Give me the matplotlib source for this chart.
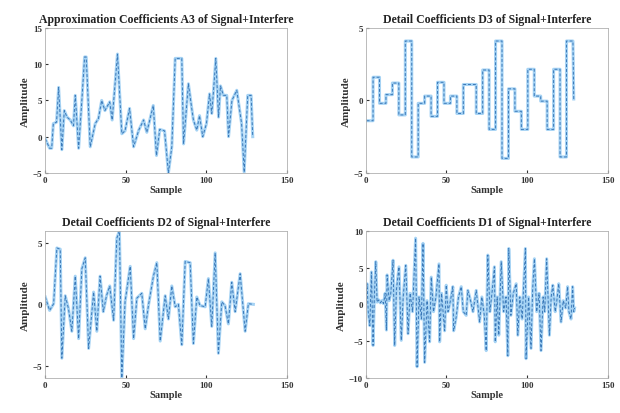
import numpy as np
import matplotlib
matplotlib.use("Agg")
import matplotlib.pyplot as plt

plt.rcParams["font.family"] = ["Liberation Serif", "DejaVu Serif"]
plt.rcParams["font.weight"] = "bold"

# A3: vertices
a3_x = [0, 2.7, 4, 5, 7, 8.3, 10.3, 11.8, 13.5, 15.5, 17.5, 18.6, 20.7, 22.7,
        24.4, 25.4, 27.9, 31, 33, 35, 37, 40, 41.5, 44.8, 47.5, 49.5, 52.3,
        54.8, 58, 61, 63, 67, 69, 71, 74, 76.4, 78.5, 80.6, 84.7, 85.8, 88.8,
        90.8, 91.9, 94, 95.7, 97.7, 100, 101.9, 103.3, 104.4, 105.8, 107.5,
        108.7, 110.5, 112.6, 113.7, 115.8, 118.8, 121.8, 123.4, 125.6, 127.7,
        128.7]
a3_y = [-0.3, -1.6, -1.6, 1.8, 2.0, 6.8, -1.8, 3.6, 2.7, 2.3, 1.5, 5.7, -1.6,
        5.0, 11.0, 11.0, -1.4, 1.8, 2.5, 5.0, 3.6, 4.8, 2.3, 11.4, 0.4, 0.8,
        3.9, -1.4, 0.9, 2.3, 0.6, 4.3, -2.6, 1.0, 0.8, -5.0, -1.4, 10.8, 10.8,
        -1.0, 7.3, 4.0, 2.3, 0.9, 2.9, 0.0, 1.8, 5.9, 3.2, 6.4, 10.8, 2.7, 7.0,
        5.7, 5.7, 0.0, 5.0, 6.4, 1.8, -4.9, 5.7, 5.7, 0.0]

# D3: one level per block of 4 samples
d3_levels = [-1.4, 1.6, -0.2, 0.4, 1.2, -1.0, 4.1, -3.9, -0.2, 0.3, -1.1, 1.25,
             -0.2, 0.3, -0.9, 1.1, 1.1, -0.9, 2.1, -2.0, 4.1, -4.0, 0.8, -0.75,
             -2.0, 2.15, 0.3, -0.05, -2.0, 2.15, -3.9, 4.1]
d3_last = 0.1

# D2
d2_x = [0, 2.7, 5.2, 7.2, 9.3, 10.3, 12.4, 14.4, 16.5, 18.6, 20.7, 22.7, 24.8,
        26.9, 30, 32, 34, 36, 38, 40, 42.4, 44.4, 46, 47.5, 49.5, 52.7, 54.8,
        56.8, 59.9, 62, 64, 67.1, 69.2, 71.3, 74.4, 76.4, 78.5, 80.6, 82.6,
        84.7, 86.8, 89.9, 91.9, 94, 96, 99.2, 101.2, 103.3, 105.4, 107.4,
        109.5, 111.5, 113.6, 115.7, 117.8, 120.9, 124, 126, 129.1]
d2_y = [0.6, -0.5, 0.05, 4.6, 4.5, -4.4, 0.7, -0.35, -2.2, 2.3, -2.8, 2.9, 3.8,
        -3.6, 1.0, -2.2, 2.3, -0.6, 0.7, 1.5, -1.3, 5.4, 6.0, -6.0, 0.2, 3.1,
        -2.8, 0.5, 0.9, -2.0, -0.1, 2.3, 3.4, -3.0, 0.7, -1.2, 1.5, -0.2, 0.0,
        -3.3, 3.5, 3.4, -3.2, 0.6, -0.1, -0.2, 2.1, -1.8, 4.2, -4.0, 0.2, -0.1,
        -1.6, 1.8, -0.6, 2.5, -2.2, 0.05, 0.0]

# D1
d1_x = [0, 0.8, 1.5, 2.5, 3.5, 4.5, 5.3, 6.2, 7, 8, 9, 10, 11, 12, 12.8, 13.2,
        14.5, 15.5, 16.9, 17.9, 19, 20.6, 22, 23.2, 24.8, 26.2, 27.5, 29, 30.9,
        31.8, 33, 34.5, 35.5, 36.5, 38, 39.6, 40.6, 42, 43.5, 45.4, 45.8, 47,
        48.9, 49.9, 51, 52.5, 54, 54.5, 56.1, 57.5, 59.2, 60.5, 62.3, 63.3, 65,
        66.5, 68.5, 70.6, 72, 73.5, 74.7, 75.7, 77, 78.5, 79.8, 80.3, 81.5,
        82.5, 84, 85.5, 87, 88.1, 88.7, 90, 91.5, 93.3, 94.3, 95.5, 97, 99,
        99.4, 101, 102.5, 103.5, 104.6, 106, 107.5, 108.7, 110, 111, 112.2,
        113.9, 115, 116, 117.5, 118.5, 119.7, 121.1, 122.5, 124, 125.2, 126,
        127.3, 128.3, 129, 129.5]
d1_y = [0.5, 2.8, -1.0, -2.9, 4.4, -5.6, 1.0, 5.8, 0.3, 0.6, 0.2, 0.5, 0.1, 1.5,
        -3.5, 4.0, 0.5, 1.5, 6.0, -5.6, 2.0, 5.1, -4.9, 1.0, 5.3, -4.0, 1.5,
        -1.0, 9.0, -8.5, 1.0, -2.0, 8.3, -7.9, 0.5, -5.1, 3.7, -1.0, 1.0, 5.5,
        -5.1, 1.5, -3.6, 2.6, -1.0, 0.5, 2.4, -3.6, -1.7, 1.0, 2.4, -1.0, -1.5,
        1.9, 0.5, -1.0, 1.9, -2.4, 1.0, -1.5, -6.3, 6.7, -1.0, 2.0, 5.1, -5.1,
        1.0, -4.2, 5.8, -1.0, 1.0, -7.0, 7.6, -1.5, 1.5, 2.8, -4.2, 1.0, -2.0,
        7.6, -7.4, 1.0, -6.0, 2.0, 6.2, -1.0, 1.5, -6.3, 1.0, -1.0, 6.2, -4.2,
        1.0, 2.6, -1.0, 0.5, 2.8, -2.4, 0.5, -0.5, 2.4, -1.0, -2.0, 2.4, -1.0,
        -0.5]

titles = ["Approximation Coefficients A3 of Signal+Interfere",
          "Detail Coefficients D3 of Signal+Interfere",
          "Detail Coefficients D2 of Signal+Interfere",
          "Detail Coefficients D1 of Signal+Interfere"]
ylims = [(-5, 15), (-5, 5), (-6, 6), (-10, 10)]
yticks = [[-5, 0, 5, 10, 15], [-5, 0, 5], [-5, 0, 5], [-10, -5, 0, 5, 10]]

# build D3 staircase from its levels
d3_x = []
d3_y = []
for k, v in enumerate(d3_levels):
    d3_x += [4 * k + 0.5, 4 * k + 4.5]
    d3_y += [v, v]
d3_x.append(d3_x[-1] + 0.5)
d3_y.append(d3_last)

series = [(a3_x, a3_y), (d3_x, d3_y), (d2_x, d2_y), (d1_x, d1_y)]

fig = plt.figure(figsize=(6.2, 4.14), dpi=100)
rects = [[0.073, 0.580, 0.390, 0.350],
         [0.590, 0.580, 0.390, 0.350],
         [0.073, 0.085, 0.390, 0.355],
         [0.590, 0.085, 0.390, 0.355]]

for i in range(4):
    ax = fig.add_axes(rects[i])
    x, y = series[i]
    ax.plot(x, y, color="#a6d3f4", lw=2.2)
    ax.plot(x, y, color="#3a78b8", lw=0.7, ls=(0, (3, 2)))
    ax.set_xlim(0, 150)
    ax.set_ylim(*ylims[i])
    ax.set_xticks([0, 50, 100, 150])
    ax.set_yticks(yticks[i])
    ax.tick_params(direction="in", length=2, labelsize=6.5, colors="#333333",
                   pad=2)
    for s in ax.spines.values():
        s.set_color("#b0b0b0")
        s.set_linewidth(0.6)
    ax.set_title(titles[i], fontsize=8.5, fontweight="bold", pad=4,
                 color="#222222")
    ax.set_xlabel("Sample", fontsize=7.5, fontweight="bold", labelpad=1,
                  color="#333333")
    ax.set_ylabel("Amplitude", fontsize=8, fontweight="bold", labelpad=2,
                  color="#333333")

fig.savefig("out.png", dpi=100)
